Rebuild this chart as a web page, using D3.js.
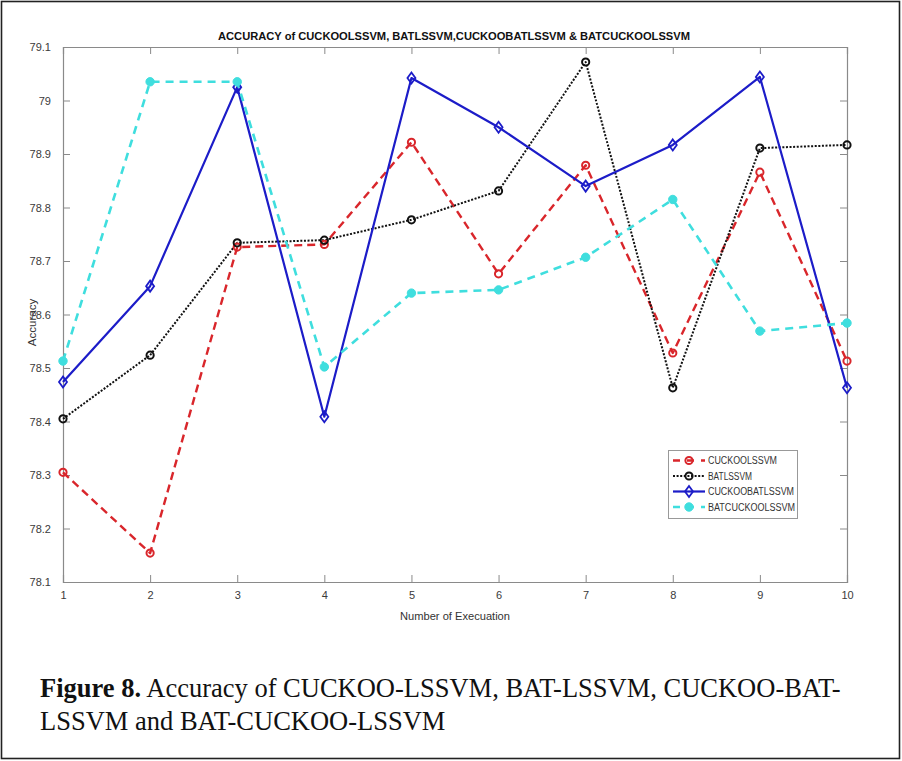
<!DOCTYPE html>
<html>
<head>
<meta charset="utf-8">
<script src="https://cdn.jsdelivr.net/npm/d3@7"></script>
<style>
  html, body { margin: 0; padding: 0; background: #fff; }
  svg { display: block; }
</style>
</head>
<body>
<svg id="fig" width="902" height="761"></svg>
<script>
// Run index (number of executions)
const runs = [1, 2, 3, 4, 5, 6, 7, 8, 9, 10];

// Accuracy per run for each model
const cuckooLssvm     = [78.305, 78.154, 78.726, 78.731, 78.922, 78.676, 78.879, 78.528, 78.866, 78.513];
const batLssvm        = [78.405, 78.524, 78.734, 78.739, 78.777, 78.831, 79.072, 78.463, 78.911, 78.917];
const cuckooBatLssvm  = [78.474, 78.653, 79.025, 78.409, 79.042, 78.950, 78.840, 78.917, 79.044, 78.463];
const batCuckooLssvm  = [78.513, 79.035, 79.035, 78.502, 78.640, 78.646, 78.707, 78.815, 78.569, 78.584];

const seriesNames = ["CUCKOOLSSVM", "BATLSSVM", "CUCKOOBATLSSVM", "BATCUCKOOLSSVM"];
const yTicks = [78.1, 78.2, 78.3, 78.4, 78.5, 78.6, 78.7, 78.8, 78.9, 79, 79.1];

const titleText = "ACCURACY of CUCKOOLSSVM, BATLSSVM,CUCKOOBATLSSVM & BATCUCKOOLSSVM";
const xLabel = "Number of Execuation";
const yLabel = "Accuracy";

const svg = d3.select("#fig");

// Outer frame of the figure panel
svg.append("rect")
  .attr("x", 1.5).attr("y", 1.5)
  .attr("width", 898).attr("height", 757)
  .attr("fill", "none").attr("stroke", "#222").attr("stroke-width", 1.6);

const plot = { left: 63, right: 847, top: 47, bottom: 582 };

const x = d3.scaleLinear().domain([1, 10]).range([plot.left, plot.right]);
const y = d3.scaleLinear().domain([78.1, 79.1]).range([plot.bottom, plot.top]);

const axisColor = "#8a8a8a";
const tickFont = "'Liberation Sans', Arial, sans-serif";

// Axes with inward ticks on all four sides
const tickLen = 7;
const bottomAxis = d3.axisBottom(x).tickValues(runs).tickSize(-tickLen).tickPadding(9).tickFormat(d3.format("d"));
const topAxis = d3.axisTop(x).tickValues(runs).tickSize(-tickLen).tickFormat("");
const leftAxis = d3.axisLeft(y).tickValues(yTicks).tickSize(-tickLen).tickPadding(12).tickFormat(d => d3.format("")(+d.toFixed(1)));
const rightAxis = d3.axisRight(y).tickValues(yTicks).tickSize(-tickLen).tickFormat("");

function styleAxis(g) {
  g.select(".domain").attr("stroke", axisColor).attr("stroke-width", 1.2);
  g.selectAll(".tick line").attr("stroke", axisColor).attr("stroke-width", 1);
  g.selectAll(".tick text").attr("fill", "#3a3a3a").style("font-family", tickFont).style("font-size", "11px");
}

svg.append("g").attr("transform", `translate(0,${plot.bottom})`).call(bottomAxis).call(styleAxis);
svg.append("g").attr("transform", `translate(0,${plot.top})`).call(topAxis).call(styleAxis);
svg.append("g").attr("transform", `translate(${plot.left},0)`).call(leftAxis).call(styleAxis);
svg.append("g").attr("transform", `translate(${plot.right},0)`).call(rightAxis).call(styleAxis);

// Axis titles
svg.append("text")
  .attr("x", (plot.left + plot.right) / 2).attr("y", 620)
  .attr("text-anchor", "middle")
  .style("font-family", tickFont).style("font-size", "11.5px").attr("fill", "#333")
  .attr("textLength", 110).attr("lengthAdjust", "spacingAndGlyphs")
  .text(xLabel);

svg.append("text")
  .attr("transform", `translate(36,${(plot.top + plot.bottom) / 2 + 8}) rotate(-90)`)
  .attr("text-anchor", "middle")
  .style("font-family", tickFont).style("font-size", "11.5px").attr("fill", "#333")
  .text(yLabel);

// Chart title
svg.append("text")
  .attr("x", 454).attr("y", 40)
  .attr("text-anchor", "middle")
  .style("font-family", tickFont).style("font-size", "11.5px").style("font-weight", "bold")
  .attr("fill", "#111")
  .attr("textLength", 472).attr("lengthAdjust", "spacingAndGlyphs")
  .text(titleText);

// Series styling
const series = [
  { name: seriesNames[0], values: cuckooLssvm,    color: "#d9262b", width: 2.4, dash: "8,5",   legendDash: "7,7", marker: "circle",  fill: "none" },
  { name: seriesNames[1], values: batLssvm,       color: "#111111", width: 2.0, dash: "2,1.6", legendDash: "2,1.6", marker: "circle", fill: "none" },
  { name: seriesNames[2], values: cuckooBatLssvm, color: "#1c1cc8", width: 2.2, dash: null,    legendDash: null, marker: "diamond", fill: "none" },
  { name: seriesNames[3], values: batCuckooLssvm, color: "#3fdede", width: 2.6, dash: "8,6",   legendDash: "7,7", marker: "circle",  fill: "#3fdede" }
];

const line = d3.line().x((d, i) => x(runs[i])).y(d => y(d));

function drawMarker(g, cx, cy, s) {
  if (s.marker === "diamond") {
    g.append("path")
      .attr("d", `M${cx},${cy - 5.5} L${cx + 4},${cy} L${cx},${cy + 5.5} L${cx - 4},${cy} Z`)
      .attr("fill", s.fill).attr("stroke", s.color).attr("stroke-width", 1.8);
  } else {
    g.append("circle")
      .attr("cx", cx).attr("cy", cy).attr("r", s.fill === "none" ? 3.6 : 4.2)
      .attr("fill", s.fill).attr("stroke", s.color).attr("stroke-width", s.fill === "none" ? 2 : 1);
  }
}

const marks = svg.append("g");
series.forEach(s => {
  marks.append("path")
    .datum(s.values)
    .attr("d", line)
    .attr("fill", "none")
    .attr("stroke", s.color)
    .attr("stroke-width", s.width)
    .attr("stroke-dasharray", s.dash)
    .attr("stroke-linejoin", "round");
});
series.forEach(s => {
  const g = marks.append("g");
  s.values.forEach((v, i) => drawMarker(g, x(runs[i]), y(v), s));
});

// Legend
const legend = svg.append("g");
legend.append("rect")
  .attr("x", 668.5).attr("y", 450.5).attr("width", 129).attr("height", 68)
  .attr("fill", "#fff").attr("stroke", "#999").attr("stroke-width", 1);

series.forEach((s, i) => {
  const ly = 460.5 + i * 15.5;
  legend.append("line")
    .attr("x1", 673).attr("x2", 705).attr("y1", ly).attr("y2", ly)
    .attr("stroke", s.color).attr("stroke-width", s.width)
    .attr("stroke-dasharray", s.legendDash);
  drawMarker(legend, 689, ly, s);
  legend.append("text")
    .attr("x", 708).attr("y", ly + 3.8)
    .style("font-family", tickFont).style("font-size", "10px").attr("fill", "#333")
    .attr("textLength", [69, 44, 86, 87][i]).attr("lengthAdjust", "spacingAndGlyphs")
    .text(s.name);
});

// Figure caption
const caption = svg.append("text")
  .style("font-family", "'Liberation Serif', 'Times New Roman', serif")
  .style("font-size", "26.5px").attr("fill", "#111");
const l1 = caption.append("tspan").attr("x", 40).attr("y", 697);
l1.append("tspan").style("font-weight", "bold").text("Figure 8.");
l1.append("tspan").text(" Accuracy of CUCKOO-LSSVM, BAT-LSSVM, CUCKOO-BAT-");
caption.append("tspan").attr("x", 40).attr("y", 730).text("LSSVM and BAT-CUCKOO-LSSVM");
</script>
</body>
</html>
